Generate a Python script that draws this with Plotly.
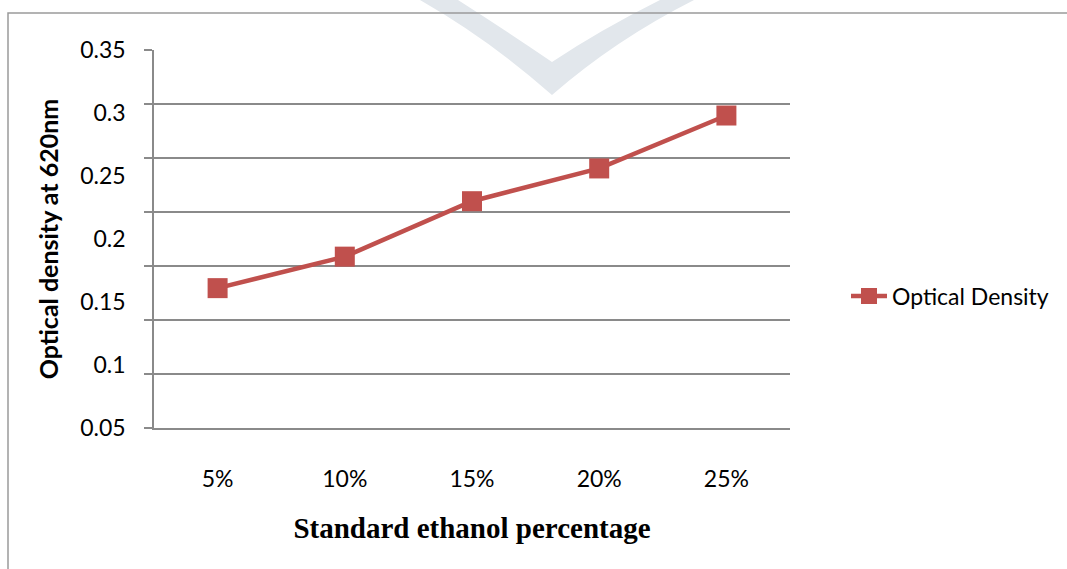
import plotly.graph_objects as go
import numpy as np

# Data
categories = ["5%", "10%", "15%", "20%", "25%"]
optical_density = [0.161, 0.186, 0.230, 0.256, 0.298]
y_tick_values = [0.05, 0.10, 0.15, 0.20, 0.25, 0.30, 0.35]
y_tick_labels = ["0.05", "0.1", "0.15", "0.2", "0.25", "0.3", "0.35"]

W, H = 1067, 569
L, R, T, B = 154, 790, 50, 428  # plot area in pixels

def px(x):
    return (x - L) / (R - L)

def py(y):
    return (B - y) / (B - T)

RED = "#C0504D"
GRID = "#8a8a8a"

fig = go.Figure()
fig.add_trace(go.Scatter(
    x=categories, y=optical_density, mode="lines+markers",
    name="Optical Density",
    line=dict(color=RED, width=4.5),
    marker=dict(symbol="square", size=20, color=RED),
))

# light chevron watermark near the top
chev = (f"M {px(420)},{py(0)} Q {px(490)},{py(40)} {px(552)},{py(95)} "
        f"Q {px(615)},{py(40)} {px(694)},{py(0)} L {px(660)},{py(0)} "
        f"Q {px(600)},{py(30)} {px(552)},{py(62)} Q {px(505)},{py(30)} {px(458)},{py(0)} Z")

shapes = [
    dict(type="path", xref="paper", yref="paper", path=chev,
         fillcolor="#e2e7ec", line=dict(width=0), layer="below"),
    dict(type="rect", xref="paper", yref="paper",
         x0=px(8), y0=py(13), x1=px(1080), y1=py(590),
         line=dict(color="#9a9a9a", width=1.5), fillcolor="rgba(0,0,0,0)", layer="below"),
]

fig.update_layout(
    width=W, height=H,
    margin=dict(l=L, r=W - R, t=T, b=H - B, pad=0),
    paper_bgcolor="white", plot_bgcolor="white",
    font=dict(family="Lato", color="black"),
    shapes=shapes,
    showlegend=True,
    legend=dict(x=px(846), y=py(296), xanchor="left", yanchor="middle",
                font=dict(size=23, family="Lato"), bgcolor="rgba(0,0,0,0)",
                itemwidth=36),
    xaxis=dict(
        type="category", range=[-0.5, 4.5],
        showgrid=False, showline=True, linecolor=GRID, linewidth=1.5,
        ticks="", tickfont=dict(size=23, family="Lato"), ticklabelstandoff=30,
        title=dict(text="<b>Standard ethanol percentage</b>",
                   font=dict(family="Liberation Serif", size=29), standoff=26),
    ),
    yaxis=dict(
        range=[0.05, 0.35],
        tickmode="array", tickvals=y_tick_values, ticktext=y_tick_labels,
        ticks="outside", ticklen=22, tickcolor="rgba(0,0,0,0)",
        tickfont=dict(size=23, family="Lato"),
        showgrid=False, zeroline=False,
        showline=True, linecolor=GRID, linewidth=1.5,
        minor=dict(tickmode="array", tickvals=list(np.linspace(0.05, 0.35, 8)),
                   showgrid=True, gridcolor=GRID, gridwidth=2,
                   ticks="outside", ticklen=8, tickcolor=GRID, tickwidth=1.5),
        title=dict(text="<b>Optical density at 620nm</b>",
                   font=dict(family="Lato", size=25), standoff=14),
    ),
)

fig.write_html("out.html")
